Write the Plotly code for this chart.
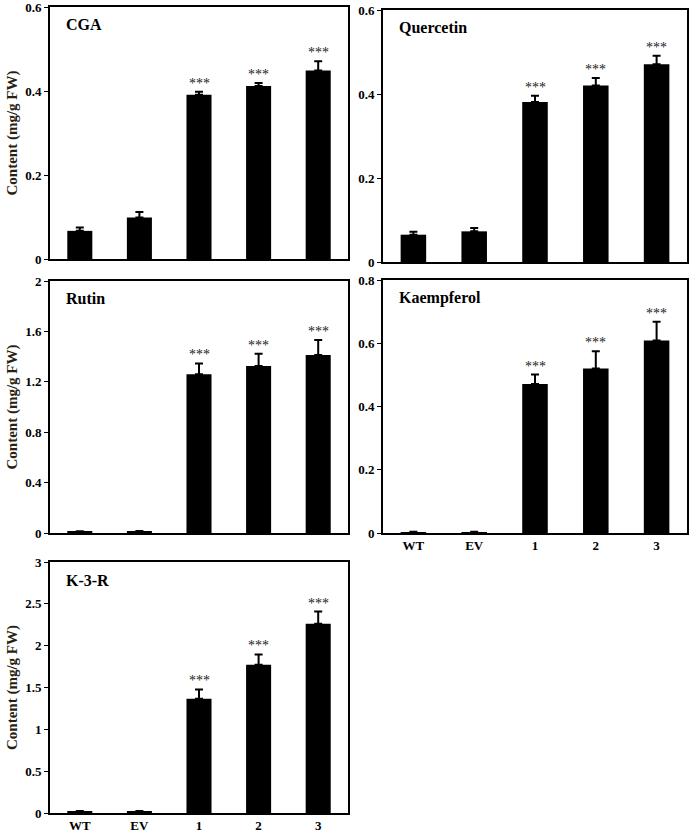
import plotly.graph_objects as go

W, H = 692, 836

categories = ["WT", "EV", "1", "2", "3"]

cga = [0.067, 0.099, 0.391, 0.412, 0.449]
cga_err = [0.008, 0.013, 0.007, 0.007, 0.022]

quercetin = [0.065, 0.073, 0.381, 0.420, 0.471]
quercetin_err = [0.007, 0.008, 0.015, 0.018, 0.020]

rutin = [0.010, 0.012, 1.259, 1.325, 1.412]
rutin_err = [0.004, 0.003, 0.087, 0.097, 0.119]

kaempferol = [0.003, 0.003, 0.471, 0.520, 0.609]
kaempferol_err = [0.001, 0.001, 0.030, 0.055, 0.059]

k3r = [0.020, 0.020, 1.367, 1.772, 2.261]
k3r_err = [0.003, 0.003, 0.110, 0.123, 0.147]

significance = ["", "", "***", "***", "***"]

rutin_ticks = [0, 0.4, 0.8, 1.2, 1.6, 2]
k3r_ticks = [0, 0.5, 1, 1.5, 2, 2.5, 3]
low_ticks = [0, 0.2, 0.4, 0.6]
kaem_ticks = [0, 0.2, 0.4, 0.6, 0.8]

FONT = "Liberation Serif"

# panel pixel boxes: (left, right, top, bottom)
panels = [
    dict(name="CGA", vals=cga, err=cga_err, box=(50, 348, 7, 259), ymax=0.6, ticks=low_ticks, ytitle=True, xlabels=False),
    dict(name="Quercetin", vals=quercetin, err=quercetin_err, box=(383, 687, 10, 262), ymax=0.6, ticks=low_ticks, ytitle=False, xlabels=False),
    dict(name="Rutin", vals=rutin, err=rutin_err, box=(50, 348, 281, 533), ymax=2, ticks=rutin_ticks, ytitle=True, xlabels=False),
    dict(name="Kaempferol", vals=kaempferol, err=kaempferol_err, box=(383, 687, 280, 533), ymax=0.8, ticks=kaem_ticks, ytitle=False, xlabels=True),
    dict(name="K-3-R", vals=k3r, err=k3r_err, box=(50, 348, 562, 813), ymax=3, ticks=k3r_ticks, ytitle=True, xlabels=True),
]

def px_x(x):
    return x / W

def px_y(y):
    return 1 - y / H

fig = go.Figure()
layout = dict(
    width=W, height=H,
    margin=dict(l=0, r=0, t=0, b=0, autoexpand=False),
    paper_bgcolor="white", plot_bgcolor="white",
    showlegend=False,
    font=dict(family=FONT, color="black"),
)
annotations = []

for i, p in enumerate(panels):
    n = i + 1
    xa = "x" if n == 1 else f"x{n}"
    ya = "y" if n == 1 else f"y{n}"
    xkey = "xaxis" if n == 1 else f"xaxis{n}"
    ykey = "yaxis" if n == 1 else f"yaxis{n}"
    l, r, t, b = p["box"]
    fig.add_trace(go.Bar(
        x=categories, y=p["vals"], width=0.42,
        marker=dict(color="black", line=dict(width=0)),
        error_y=dict(type="data", array=p["err"], arrayminus=[0] * 5,
                     symmetric=False, color="black", thickness=2, width=4),
        xaxis=xa, yaxis=ya,
    ))
    layout[xkey] = dict(
        type="category", automargin=False,
        domain=[px_x(l), px_x(r)], anchor=ya,
        range=[-0.5, 4.5],
        showline=True, linecolor="black", linewidth=1.6, mirror=True,
        showgrid=False, ticks="",
        showticklabels=p["xlabels"], ticklabeloverflow="allow",
        tickfont=dict(family=FONT, size=13, color="black", weight="bold"),
        categoryorder="array", categoryarray=categories,
    )
    tick_text = [f"{v:g}" for v in p["ticks"]]
    layout[ykey] = dict(
        automargin=False,
        domain=[px_y(b), px_y(t)], anchor=xa,
        range=[0, p["ymax"]],
        tickvals=p["ticks"], ticktext=tick_text,
        showline=True, linecolor="black", linewidth=1.6, mirror=True,
        showgrid=False, zeroline=False,
        ticks="outside", ticklen=4, tickwidth=1.2, tickcolor="black",
        ticklabeloverflow="allow",
        tickfont=dict(family=FONT, size=13, color="black", weight="bold"),
    )
    if p["ytitle"]:
        layout[ykey]["title"] = dict(
            text="Content (mg/g FW)",
            font=dict(family=FONT, size=15, color="#2a1f14", weight="bold"),
            standoff=4,
        )
    # panel label
    annotations.append(dict(
        text=p["name"], xref="paper", yref="paper",
        x=px_x(l + 14), y=px_y(t + 18), xanchor="left", yanchor="middle",
        showarrow=False,
        font=dict(family=FONT, size=16, color="black", weight="bold"),
    ))
    # significance stars
    for idx, (v, e, s) in enumerate(zip(p["vals"], p["err"], significance)):
        if s:
            annotations.append(dict(
                text=s, xref=xa, yref=ya, x=idx, y=v + e,
                xanchor="center", yanchor="bottom", yshift=-1,
                showarrow=False,
                font=dict(family=FONT, size=14, color="#222222"),
            ))

layout["annotations"] = annotations
fig.update_layout(**layout)
fig.write_html(
    "out.html",
    config={"displayModeBar": False},
    post_script="document.body.style.margin='0';document.body.style.padding='0';",
)
